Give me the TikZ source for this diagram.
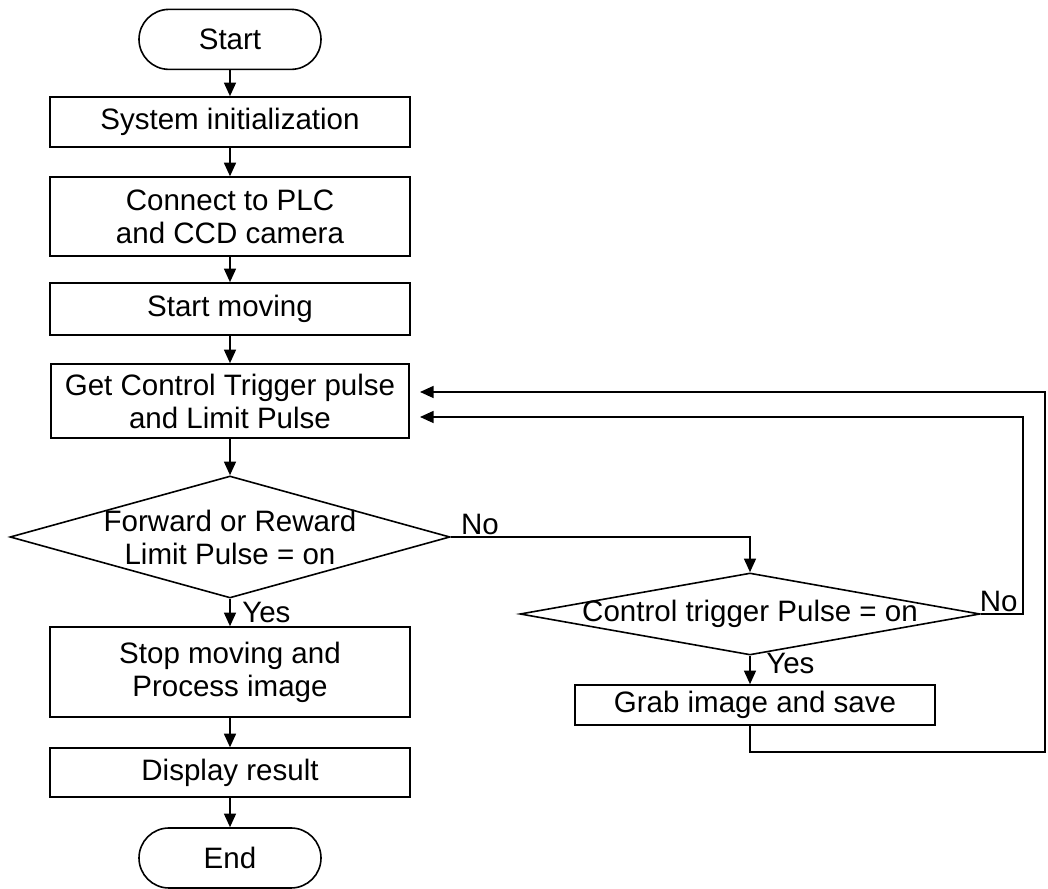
\documentclass[tikz,border=0pt]{standalone}
\usepackage{fontspec}
\setmainfont{Liberation Sans}
\usepackage{xcolor}
\usepackage{tikz}
\usetikzlibrary{shapes,arrows.meta,positioning}

\tikzset{
    flow/.style={line width=0.4mm, draw=black},
    terminal/.style={flow, rectangle, rounded corners=7.5mm, minimum width=45.5mm, minimum height=15mm, inner sep=0pt},
    process/.style={flow, rectangle, align=center, minimum width=90mm, inner sep=0pt},
    decision/.style={flow, diamond, inner sep=0pt},
    lbl/.style={inner sep=0.5mm},
    >={Triangle[length=3.4mm,width=3mm]}
}

\begin{document}
\begin{tikzpicture}[font=\fontsize{21}{23.5}\selectfont]
    \useasboundingbox (0,0) rectangle (262mm, 222.25mm);
    \fill[white] (0,0) rectangle (262mm, 222.25mm);

    % main column
    \node[terminal] (start) at (57.5mm, 212.4mm) {Start};
    \node[process, minimum height=12.5mm] (init) at (57.5mm, 191.75mm) {System initialization};
    \node[process, minimum height=19.75mm] (connect) at (57.5mm, 168.1mm) {Connect to PLC\\and CCD camera};
    \node[process, minimum height=13mm] (move) at (57.5mm, 145mm) {Start moving};
    \node[process, minimum width=89.5mm, minimum height=18.5mm] (getpulse) at (57.5mm, 122mm) {Get Control Trigger pulse\\and Limit Pulse};
    \node[decision, minimum width=110mm, minimum height=30.5mm,
          label={[align=center]center:{Forward or Reward\\Limit Pulse = on}}] (limit) at (57.5mm, 88mm) {};
    \node[process, minimum height=22.5mm] (stop) at (57.5mm, 54.25mm) {Stop moving and\\Process image};
    \node[process, minimum height=12.25mm] (show) at (57.5mm, 29.1mm) {Display result};
    \node[terminal] (finish) at (57.5mm, 7.75mm) {End};

    % right branch
    \node[decision, minimum width=115mm, minimum height=20.5mm,
          label={center:{Control trigger Pulse = on}}] (trig) at (187.5mm, 68.75mm) {};
    \node[process, minimum height=10mm] (grab) at (188.75mm, 46mm) {Grab image and save};

    % return paths
    \coordinate (loopA) at (261.25mm, 34.25mm);
    \coordinate (inA) at (105mm, 124.25mm);
    \coordinate (loopB) at (255.75mm, 118mm);
    \coordinate (inB) at (105mm, 118mm);

    \draw[flow, ->] (start) -- (init);
    \draw[flow, ->] (init) -- (connect);
    \draw[flow, ->] (connect) -- (move);
    \draw[flow, ->] (move) -- (getpulse);
    \draw[flow, ->] (getpulse) -- (limit);
    \draw[flow, ->] (limit) -- (stop);
    \draw[flow, ->] (stop) -- (show);
    \draw[flow, ->] (show) -- (finish);

    \draw[flow, ->] (limit.east) -| (trig.north);
    \draw[flow, ->] (trig.south) -- (trig.south |- grab.north);
    \draw[flow, ->] (trig.east) -| (loopB) -- (inB);
    \draw[flow, ->] (grab.south -| trig.south) |- (loopA) |- (inA);

    \node[lbl, anchor=south west] at ([xshift=2mm]limit.east) {No};
    \node[lbl, anchor=west] at ([xshift=2.5mm, yshift=-3.5mm]limit.south) {Yes};
    \node[lbl, anchor=south east] at ([xshift=-0.8mm]loopB |- trig.east) {No};
    \node[lbl, anchor=west] at ([xshift=3.5mm, yshift=-2mm]trig.south) {Yes};
\end{tikzpicture}
\end{document}
